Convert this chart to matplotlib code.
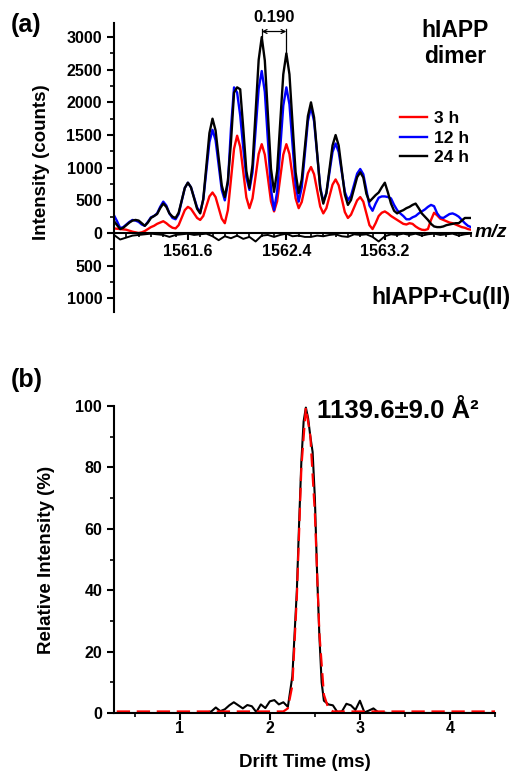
import numpy as np
import matplotlib
matplotlib.use("Agg")
import matplotlib.pyplot as plt
from matplotlib.ticker import MultipleLocator, FuncFormatter

plt.rcParams['font.family'] = ['Liberation Sans', 'DejaVu Sans']
plt.rcParams['font.weight'] = 'bold'
plt.rcParams['axes.labelweight'] = 'bold'

# ---- panel (a): hIAPP dimer isotope pattern, m/z step 0.025 ----
mz = np.round(np.linspace(1561.0, 1563.9, 117), 3)

cnt_3h = [70, 65, 60, 55, 50, 35, 20, 10, 0, 10,
          30, 60, 90, 110, 140, 160, 180, 150, 110, 80,
          70, 120, 235, 350, 400, 370, 300, 230, 200, 260,
          410, 560, 620, 550, 385, 220, 150, 350, 820, 1290,
          1490, 1320, 935, 545, 380, 530, 870, 1210, 1360, 1200,
          845, 485, 330, 485, 845, 1200, 1360, 1210, 870, 530,
          380, 475, 695, 915, 1010, 900, 655, 405, 300, 380,
          560, 740, 820, 730, 525, 320, 230, 280, 390, 500,
          550, 480, 300, 120, 60, 150, 260, 310, 330, 300,
          260, 230, 200, 170, 140, 130, 150, 140, 100, 70,
          50, 45, 60, 200, 310, 270, 220, 200, 180, 160,
          150, 130, 110, 90, 80, 60, 50]

cnt_12h = [270, 180, 75, 90, 130, 170, 200, 190, 170, 130,
           110, 170, 240, 260, 300, 400, 480, 420, 300, 230,
           210, 290, 490, 690, 770, 700, 545, 390, 320, 510,
           950, 1390, 1580, 1420, 1040, 660, 500, 760, 1600, 2230,
           2150, 1800, 1300, 850, 660, 930, 1570, 2210, 2480, 2160,
           1415, 670, 350, 630, 1290, 1950, 2230, 1970, 1355, 740,
           480, 700, 1205, 1710, 1930, 1710, 1205, 700, 480, 610,
           925, 1240, 1370, 1240, 935, 630, 500, 570, 740, 910,
           980, 900, 660, 420, 340, 450, 540, 560, 560, 550,
           530, 430, 350, 300, 260, 210, 210, 240, 260, 300,
           330, 360, 400, 430, 410, 300, 240, 230, 260, 290,
           300, 280, 250, 200, 150, 110, 90]

cnt_24h = [180, 120, 60, 80, 120, 160, 190, 200, 190, 150,
           110, 160, 230, 260, 290, 380, 450, 400, 300, 250,
           230, 310, 500, 690, 770, 700, 535, 370, 300, 520,
           1025, 1530, 1750, 1570, 1150, 730, 550, 800, 1390, 2150,
           2230, 2200, 1600, 950, 690, 1040, 1845, 2650, 3000, 2640,
           1815, 985, 630, 950, 1690, 2430, 2750, 2430, 1680, 930,
           610, 820, 1305, 1790, 2000, 1770, 1225, 680, 450, 610,
           975, 1340, 1500, 1340, 965, 590, 430, 505, 680, 855,
           930, 850, 600, 480, 530, 580, 620, 700, 770, 620,
           450, 340, 300, 330, 350, 380, 400, 430, 450, 380,
           300, 250, 200, 140, 100, 90, 90, 100, 120, 130,
           140, 150, 150, 190, 230, 230, 230]

# hIAPP+Cu(II) trace, plotted downward, m/z step 0.05
mz_cu = mz[::2]
cnt_cu = [-30, -100, -70, -40, -30, -20, -10, -20, -30, -60,
          -30, -20, -10, -30, -20, -10, -50, -110, -50, -80,
          -40, -90, -60, -130, -40, -30, -60, -30, -10, -50,
          -40, -60, -60, -40, -50, -30, -20, -50, -60, -20,
          -30, -20, -60, -130, -50, -20, -30, -10, -30, -10,
          -40, -20, -10, -30, -20, -10, -40, -20, -10]

# ---- panel (b): arrival time distribution ----
drift = [0.30, 1.00, 1.20, 1.25, 1.30, 1.35, 1.40, 1.45, 1.50, 1.55,
         1.60, 1.65, 1.70, 1.75, 1.80, 1.85, 1.90, 1.95, 2.00, 2.05,
         2.10, 2.15, 2.20, 2.25, 2.30, 2.325, 2.35, 2.375, 2.40, 2.425,
         2.45, 2.475, 2.50, 2.525, 2.55, 2.575, 2.60, 2.65, 2.70, 2.75,
         2.80, 2.85, 2.90, 2.95, 3.00, 3.05, 3.10, 3.15, 3.20, 3.25,
         3.30, 4.50]
rel_int = [0, 0, 0, 0.3, 0.2, 0.5, 1.8, 0.6, 1.2, 2.5,
           3.5, 2.5, 1.5, 2.6, 2.2, 0.3, 2.8, 1.6, 3.8, 4.2,
           2.8, 3.5, 2.0, 12, 40, 62, 82, 95, 99.5, 96,
           90, 85, 70, 45, 25, 10, 4, 2.8, 2.5, 0.3,
           0.5, 3.0, 2.5, 1.0, 4.0, 0.2, 0.8, 1.5, 0.3, 0.2,
           0, 0]

fit_t = [0.30, 2.15, 2.20, 2.25, 2.30, 2.35, 2.40, 2.45, 2.50, 2.55,
         2.60, 2.65, 2.70, 4.50]
fit_int = [0.5, 0.5, 1.5, 9, 38, 80, 99.5, 90, 65, 26,
           6, 1.5, 0.5, 0.5]

fig = plt.figure(figsize=(5.15, 7.75), dpi=100)

# panel (a)
ax = fig.add_axes([0.2214, 0.5974, 0.6932, 0.3729])
ax.plot(mz, cnt_3h, color='#ff0000', lw=1.7, label='3 h')
ax.plot(mz, cnt_12h, color='#0000ff', lw=1.7, label='12 h')
ax.plot(mz, cnt_24h, color='black', lw=1.7, label='24 h')
ax.plot(mz_cu, cnt_cu, color='black', lw=1.4)
ax.set_xlim(1561.0, 1563.9)
ax.set_ylim(-1210, 3215)
ax.spines['top'].set_visible(False)
ax.spines['right'].set_visible(False)
ax.spines['bottom'].set_position(('data', 0))
ax.spines['left'].set_linewidth(1.5)
ax.spines['bottom'].set_linewidth(1.5)
ax.yaxis.set_major_locator(MultipleLocator(500))
ax.yaxis.set_minor_locator(MultipleLocator(250))
ax.yaxis.set_major_formatter(FuncFormatter(lambda v, p: '%d' % abs(v)))
ax.set_xticks([1561.6, 1562.4, 1563.2])
ax.xaxis.set_major_formatter(FuncFormatter(lambda v, p: '%.1f' % v))
ax.xaxis.set_minor_locator(MultipleLocator(0.1))
ax.tick_params(which='major', length=5, width=1.5, labelsize=11.5, direction='out')
ax.tick_params(which='minor', length=3, width=1.2, direction='out')
ax.tick_params(axis='x', pad=3)
ax.set_ylabel('Intensity (counts)', fontsize=13.5)
ax.yaxis.set_label_coords(-0.18, 0.52)
ax.text(1.01, 0, 'm/z', transform=ax.get_yaxis_transform(), fontsize=14,
        style='italic', ha='left', va='center')
ax.text(0.955, 0.93, 'hIAPP\ndimer', transform=ax.transAxes, fontsize=16.5,
        ha='center', va='center', linespacing=1.15)
ax.text(1.11, 0.05, 'hIAPP+Cu(II)', transform=ax.transAxes, fontsize=16.5,
        ha='right', va='center')
# peak spacing marker
ax.plot([1562.2, 1562.2], [3000, 3130], color='black', lw=0.9)
ax.plot([1562.4, 1562.4], [2750, 3130], color='black', lw=0.9)
ax.annotate('', xy=(1562.2, 3085), xytext=(1562.4, 3085),
            arrowprops=dict(arrowstyle='<->', lw=0.9, color='black',
                            shrinkA=0, shrinkB=0, mutation_scale=7))
ax.text(1562.3, 3180, '0.190', fontsize=12, ha='center', va='bottom')
ax.legend(loc='upper left', bbox_to_anchor=(0.80, 0.695), frameon=False,
          fontsize=12.5, handlelength=1.6, handletextpad=0.4,
          labelspacing=0.25, borderpad=0, borderaxespad=0)
fig.text(0.02, 0.968, '(a)', fontsize=18, ha='left', va='center')

# panel (b)
bx = fig.add_axes([0.2214, 0.08, 0.7398, 0.3961])
bx.plot(drift, rel_int, color='black', lw=1.5)
bx.plot(fit_t, fit_int, color='#ff0000', lw=1.6, ls=(0, (6, 3)))
bx.set_xlim(0.27, 4.5)
bx.set_ylim(0, 100)
bx.spines['top'].set_visible(False)
bx.spines['right'].set_visible(False)
bx.spines['left'].set_linewidth(1.5)
bx.spines['bottom'].set_linewidth(1.5)
bx.xaxis.set_major_locator(MultipleLocator(1))
bx.xaxis.set_minor_locator(MultipleLocator(0.5))
bx.yaxis.set_major_locator(MultipleLocator(20))
bx.yaxis.set_minor_locator(MultipleLocator(10))
bx.tick_params(which='major', length=5, width=1.5, labelsize=11.5, direction='out')
bx.tick_params(which='minor', length=3, width=1.2, direction='out')
bx.tick_params(axis='x', pad=1)
bx.set_xlabel('Drift Time (ms)', fontsize=13.5)
bx.set_ylabel('Relative Intensity (%)', fontsize=13.5)
bx.xaxis.set_label_coords(0.5, -0.135)
bx.yaxis.set_label_coords(-0.155, 0.5)
bx.text(0.957, 0.985, '1139.6\u00b19.0 \u00c5\u00b2', transform=bx.transAxes,
        fontsize=18.5, ha='right', va='center')
fig.text(0.02, 0.51, '(b)', fontsize=18, ha='left', va='center')

fig.savefig('out.png', dpi=100)
